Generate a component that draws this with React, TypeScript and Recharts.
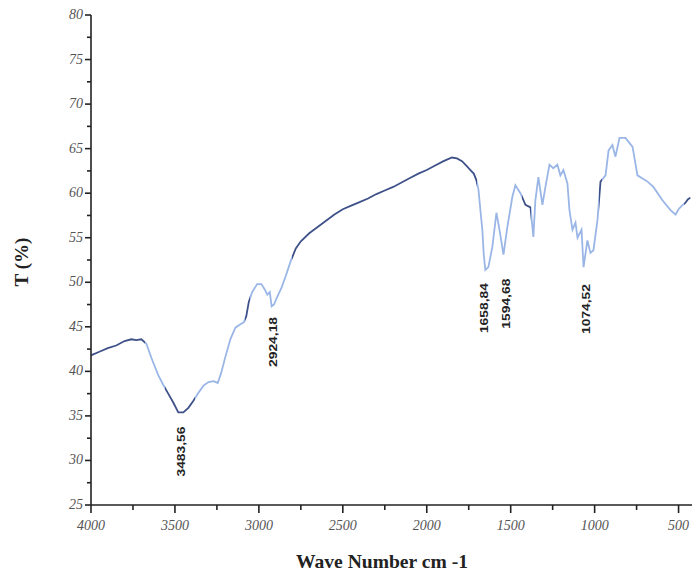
import { LineChart, Line, XAxis, YAxis, ReferenceDot } from 'recharts';

// FTIR spectrum (wave number cm-1, transmittance %)
const waveNumber = [
  4000, 3950, 3900, 3850, 3800, 3760, 3730, 3700, 3670, 3640, 3600, 3570, 3540, 3510, 3480, 3450,
  3420, 3390, 3360, 3330, 3300, 3270, 3245, 3225, 3200, 3170, 3140, 3110, 3090, 3075, 3060, 3040,
  3010, 2985, 2965, 2950, 2935, 2924, 2910, 2890, 2865, 2840, 2810, 2780, 2750, 2700, 2650, 2600,
  2550, 2500, 2450, 2400, 2350, 2300, 2250, 2200, 2150, 2100, 2050, 2000, 1950, 1900, 1850, 1820,
  1790, 1760, 1740, 1720, 1705, 1692, 1680, 1669, 1660, 1651, 1633, 1609, 1585, 1567, 1543, 1520,
  1490, 1472, 1442, 1412, 1382, 1365, 1353, 1335, 1311, 1293, 1269, 1246, 1222, 1204, 1186, 1162,
  1150, 1132, 1114, 1102, 1078, 1066, 1043, 1025, 1007, 983, 965, 935, 917, 894, 876, 852,
  816, 774, 745, 685, 650, 596, 548, 518, 500, 480, 460, 445, 430,
];
const transmittance = [
  41.8, 42.2, 42.6, 42.9, 43.4, 43.6, 43.5, 43.6, 43.1, 41.5, 39.6, 38.5, 37.5, 36.5, 35.4, 35.4,
  35.9, 36.7, 37.6, 38.4, 38.8, 38.9, 38.7, 39.8, 41.6, 43.6, 44.9, 45.3, 45.5, 46.2, 47.8, 48.9,
  49.8, 49.8, 49.2, 48.6, 48.9, 47.3, 47.5, 48.4, 49.4, 50.7, 52.4, 53.8, 54.6, 55.5, 56.2, 56.9,
  57.6, 58.2, 58.6, 59.0, 59.4, 59.9, 60.3, 60.7, 61.2, 61.7, 62.2, 62.6, 63.1, 63.6, 64.0, 63.9,
  63.6, 63.0, 62.6, 62.2, 61.5, 60.4, 58.0, 55.9, 53.0, 51.4, 51.7, 54.0, 57.8, 55.9, 53.1, 56.2,
  59.6, 60.9, 60.0, 58.7, 58.4, 55.1, 59.2, 61.8, 58.7, 60.7, 63.2, 62.8, 63.2, 62.0, 62.6, 61.1,
  58.1, 55.9, 56.7, 55.0, 55.9, 51.7, 54.7, 53.3, 53.6, 57.0, 61.3, 62.0, 64.8, 65.4, 64.1, 66.2,
  66.2, 65.2, 62.0, 61.3, 60.7, 59.2, 58.1, 57.6, 58.2, 58.6, 58.9, 59.3, 59.5,
];

const xTicks = [4000, 3750, 3500, 3250, 3000, 2750, 2500, 2250, 2000, 1750, 1500, 1250, 1000, 750, 500];
const yTicks = [25, 27.5, 30, 32.5, 35, 37.5, 40, 42.5, 45, 47.5, 50, 52.5, 55, 57.5, 60, 62.5, 65, 67.5, 70, 72.5, 75, 77.5, 80];

const peakLabels = ['3483,56', '2924,18', '1658,84', '1594,68', '1074,52'];
const peakX = [3463, 2915, 1657, 1526, 1054];
const peakY = [31.0, 43.3, 47.1, 47.6, 47.0];

const data = waveNumber.map((w, i) => ({ wave: w, t: transmittance[i] }));

const tickFont = '"Liberation Serif", serif';

const YTick = ({ x, y, payload }: any) => {
  const major = payload.value % 5 === 0;
  return (
    <g>
      <line x1={x} x2={x - (major ? 6 : 4)} y1={y} y2={y} stroke="#222" strokeWidth={1.6} />
      {major && (
        <text x={x - 8} y={y} dy={4} textAnchor="end" fontFamily={tickFont} fontStyle="italic" fontSize={14} fill="#555">
          {payload.value}
        </text>
      )}
    </g>
  );
};

const XTick = ({ x, y, payload }: any) => {
  const major = payload.value % 500 === 0;
  return (
    <g>
      <line x1={x} x2={x} y1={y} y2={y + (major ? 8 : 5)} stroke="#222" strokeWidth={1.6} />
      {major && (
        <text x={x} y={y + 25} textAnchor="middle" fontFamily={tickFont} fontStyle="italic" fontSize={14} fill="#555">
          {payload.value}
        </text>
      )}
    </g>
  );
};

const PeakLabel = ({ viewBox, value }: any) => {
  const cx = viewBox.x + viewBox.width / 2;
  const cy = viewBox.y + viewBox.height / 2;
  return (
    <text
      x={cx}
      y={cy}
      dy={4}
      transform={`rotate(-90 ${cx} ${cy})`}
      textAnchor="middle"
      fontFamily='"Liberation Sans", sans-serif'
      fontWeight="bold"
      fontSize={11.5}
      textLength={50}
      lengthAdjust="spacingAndGlyphs"
      fill="#222"
    >
      {value}
    </text>
  );
};

// fraction along the x extent of the line (4000 -> 430)
const off = (w: number) => (4000 - w) / 3570;
const dark = '#3f5189';
const light = '#9ab6e6';
const colourBands: [number, number][] = [
  [4000, 3680],
  [3560, 3380],
  [3085, 3055],
  [2800, 1700],
  [1430, 1380],
  [975, 955],
  [470, 430],
];

export default function App() {
  const stops: { o: number; c: string }[] = [];
  let prev = 4000;
  colourBands.forEach(([a, b]) => {
    if (a < prev) {
      stops.push({ o: off(prev), c: light }, { o: off(a), c: light });
    }
    stops.push({ o: off(a), c: dark }, { o: off(b), c: dark });
    prev = b;
  });

  return (
    <div style={{ position: 'absolute', left: 0, top: 0, width: 694, height: 574, background: '#fff' }}>
      <LineChart width={694} height={574} data={data} margin={{ top: 15, right: 2, left: 0, bottom: 0 }}>
        <defs>
          <linearGradient id="specStroke" x1="0" y1="0" x2="1" y2="0">
            {stops.map((s, i) => (
              <stop key={i} offset={s.o} stopColor={s.c} />
            ))}
          </linearGradient>
        </defs>
        <XAxis
          type="number"
          dataKey="wave"
          domain={[420, 4000]}
          reversed
          allowDataOverflow
          ticks={xTicks}
          interval={0}
          height={69}
          tickSize={0}
          tickMargin={0}
          tickLine={false}
          tick={<XTick />}
          axisLine={{ stroke: '#222', strokeWidth: 1.6 }}
          label={{
            content: () => (
              <text x={382} y={568} textAnchor="middle" fontFamily={tickFont} fontWeight="bold" fontSize={19} textLength={172} lengthAdjust="spacingAndGlyphs" fill="#222">
                Wave Number cm -1
              </text>
            ),
          }}
        />
        <YAxis
          type="number"
          domain={[25, 80]}
          ticks={yTicks}
          interval={0}
          width={91}
          tickSize={0}
          tickMargin={0}
          tickLine={false}
          tick={<YTick />}
          axisLine={{ stroke: '#222', strokeWidth: 1.6 }}
          label={{
            content: () => (
              <text x={28} y={262} transform="rotate(-90 28 262)" textAnchor="middle" fontFamily={tickFont} fontWeight="bold" fontSize={19} fill="#222">
                T (%)
              </text>
            ),
          }}
        />
        <Line
          type="linear"
          dataKey="t"
          stroke="url(#specStroke)"
          strokeWidth={1.8}
          dot={false}
          isAnimationActive={false}
        />
        {peakLabels.map((p, i) => (
          <ReferenceDot
            key={p}
            x={peakX[i]}
            y={peakY[i]}
            r={0}
            fill="none"
            stroke="none"
            label={{ value: p, content: <PeakLabel /> }}
          />
        ))}
      </LineChart>
    </div>
  );
}
